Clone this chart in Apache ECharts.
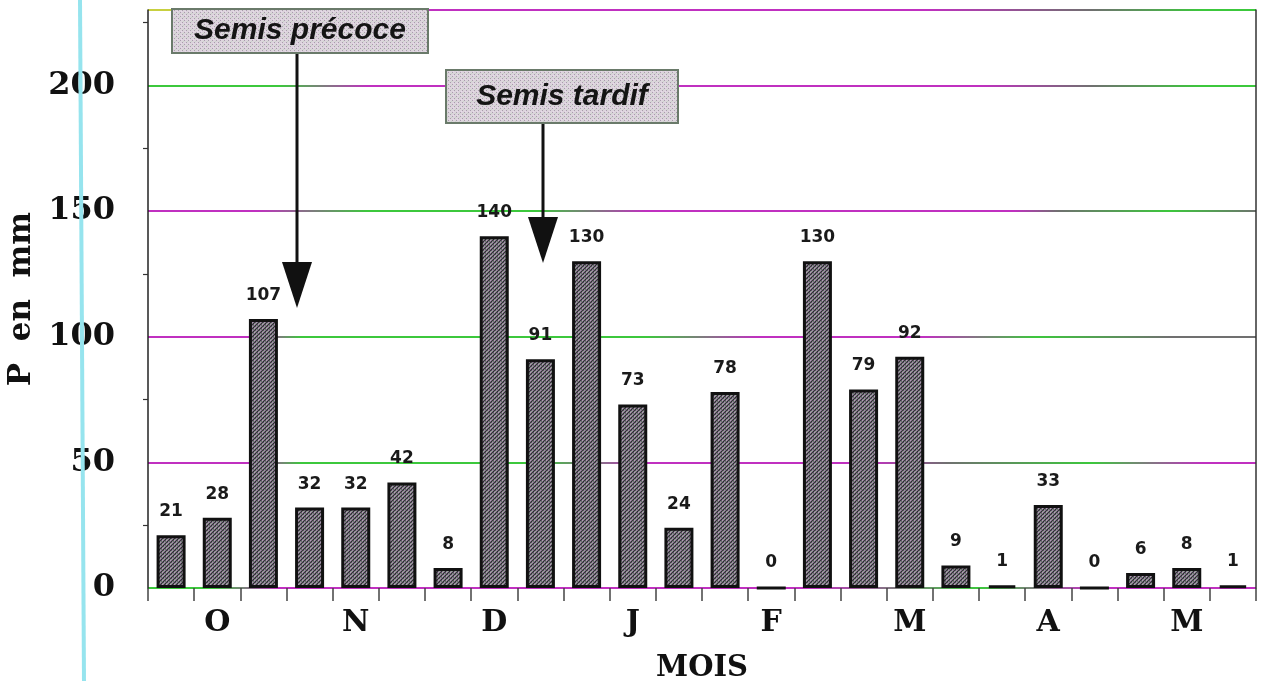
<!DOCTYPE html>
<html>
<head>
<meta charset="utf-8">
<script src="https://cdn.jsdelivr.net/npm/echarts@6/dist/echarts.min.js"></script>
<style>
html,body{margin:0;padding:0;background:#fff;}
#c{width:1263px;height:681px;}
</style>
</head>
<body>
<div id="c"></div>
<script>
// ---- data ----
const months = ['O', 'N', 'D', 'J', 'F', 'M', 'A', 'M'];
const decades = ['O1','O2','O3','N1','N2','N3','D1','D2','D3','J1','J2','J3',
                 'F1','F2','F3','M1','M2','M3','A1','A2','A3','Ma1','Ma2','Ma3'];
const rainfall = [21, 28, 107, 32, 32, 42, 8, 140, 91, 130, 73, 24,
                  78, 0, 130, 79, 92, 9, 1, 33, 0, 6, 8, 1];
const yTicks = [0, 50, 100, 150, 200];
const yMax = 230;
const annotations = ['Semis précoce', 'Semis tardif'];
const xTitle = 'MOIS';
const yTitle = 'P  en  mm';

// ---- textures ----
function makePattern(bg, dots) {
  const c = document.createElement('canvas');
  c.width = 4; c.height = 4;
  const g = c.getContext('2d');
  g.fillStyle = bg; g.fillRect(0, 0, 4, 4);
  dots.forEach(d => { g.fillStyle = d[2]; g.fillRect(d[0], d[1], 1, 1); });
  return c;
}
const barPat = makePattern('#7c7680', [
  [0,0,'#34303a'],[2,0,'#b89cbc'],[1,1,'#66806a'],[3,1,'#2a2830'],
  [0,2,'#a890b0'],[2,2,'#34303a'],[1,3,'#2a2830'],[3,3,'#98aa9a'],
  [1,0,'#5a5460'],[3,2,'#5a5460']
]);
const boxPat = makePattern('#dcd4dc', [
  [0,0,'#a89cac'],[2,2,'#a89cac'],[1,3,'#e8d8ec'],[3,1,'#c8d8c8']
]);

function grad(stops) {
  return {type:'linear', x:0, y:0, x2:1, y2:0,
    colorStops: stops.map(s => ({offset:s[0], color:s[1]}))};
}
const G = '#3cc83c', P = '#c030c0', Y = '#c8d040', K = '#707070';
const gridColors = [
  grad([[0,G],[0.06,G],[0.12,P],[0.6,P],[0.75,G],[0.85,P],[1,P]]),        // 0
  grad([[0,P],[0.1,P],[0.14,G],[0.35,G],[0.45,P],[0.65,P],[0.72,K],[0.85,G],[0.95,P],[1,P]]), // 50
  grad([[0,P],[0.1,P],[0.14,G],[0.45,G],[0.55,P],[0.7,P],[0.8,G],[0.92,K],[1,K]]), // 100
  grad([[0,P],[0.1,P],[0.2,G],[0.35,G],[0.45,P],[0.78,P],[0.82,K],[0.92,G],[1,K]]), // 150
  grad([[0,G],[0.12,G],[0.2,P],[0.75,P],[0.85,K],[0.95,G],[1,G]]),       // 200
  grad([[0,Y],[0.05,Y],[0.1,P],[0.7,P],[0.85,K],[0.95,G],[1,G]])         // top
];

const chart = echarts.init(document.getElementById('c'));
const serif = '"DejaVu Serif"';

chart.setOption({
  animation: false,
  backgroundColor: '#ffffff',
  grid: { left: 148, right: 7, top: 10, bottom: 93, containLabel: false, outerBoundsMode: 'none' },
  xAxis: {
    type: 'category',
    data: decades,
    boundaryGap: true,
    name: xTitle,
    nameLocation: 'middle',
    nameGap: 66,
    nameTextStyle: { fontFamily: serif, fontWeight: 'bold', fontSize: 29, color: '#111' },
    axisLine: { show: false },
    axisTick: { show: true, alignWithLabel: false, interval: 0, length: 13, lineStyle: { color: '#444', width: 1.5 } },
    axisLabel: {
      interval: 0, margin: 20,
      fontFamily: serif, fontWeight: 'bold', fontSize: 30, color: '#111',
      formatter: (v, i) => (i % 3 === 1 ? months[Math.floor(i / 3)] : '')
    },
    splitLine: { show: false }
  },
  yAxis: [{
    type: 'value',
    min: 0, max: yMax, interval: 50,
    name: yTitle,
    nameLocation: 'middle',
    nameGap: 100,
    nameTextStyle: { fontFamily: serif, fontWeight: 'bold', fontSize: 31, color: '#111' },
    axisLine: { show: true, lineStyle: { color: '#222', width: 1.5 } },
    axisTick: { show: false },
    minorTick: { show: true, splitNumber: 2, length: 5, lineStyle: { color: '#333', width: 1.2 } },
    axisLabel: {
      margin: 33, fontFamily: serif, fontWeight: 'bold', fontSize: 32, color: '#111',
      formatter: v => (yTicks.indexOf(v) >= 0 ? String(v) : '')
    },
    splitLine: { show: true, lineStyle: { color: gridColors, width: 2 } }
  }, {
    type: 'value', position: 'right',
    min: 0, max: yMax, interval: 50,
    axisLine: { show: true, lineStyle: { color: '#333', width: 1.5 } },
    axisTick: { show: false }, axisLabel: { show: false }, splitLine: { show: false }
  }],
  series: [{
    type: 'bar',
    data: rainfall,
    barWidth: 29,
    itemStyle: { color: { image: barPat, repeat: 'repeat' }, borderColor: '#111', borderWidth: 3 },
    label: {
      show: true, position: 'top', distance: 15,
      fontFamily: '"DejaVu Sans"', fontWeight: 'bold', fontSize: 17, color: '#1a1a1a'
    }
  }]
});

// ---- annotations ----
function box(x, y, w, h, text) {
  return [
    { type: 'rect', shape: { x: x, y: y, width: w, height: h }, z: 50,
      style: { fill: { image: boxPat, repeat: 'repeat' }, stroke: '#6a7a6a', lineWidth: 2 } },
    { type: 'text', x: x + w / 2, y: y + h / 2, z: 51,
      style: { text: text, font: 'bold italic 30px "Liberation Sans"', fill: '#141414', align: 'center', verticalAlign: 'middle' } }
  ];
}
function arrow(x, y1, tipY) {
  return [
    { type: 'line', z: 49, shape: { x1: x, y1: y1, x2: x, y2: tipY - 30 }, style: { stroke: '#111', lineWidth: 3 } },
    { type: 'polygon', z: 49, shape: { points: [[x - 15, tipY - 46], [x + 15, tipY - 46], [x, tipY]] }, style: { fill: '#111' } }
  ];
}
chart.setOption({
  graphic: [
    { type: 'line', z: 60, shape: { x1: 80, y1: 0, x2: 84, y2: 681 }, style: { stroke: '#96e4ee', lineWidth: 4 } }
  ].concat(arrow(297, 53, 308), box(172, 9, 256, 44, annotations[0]),
           arrow(543, 123, 263), box(446, 70, 232, 53, annotations[1]))
});
</script>
</body>
</html>
